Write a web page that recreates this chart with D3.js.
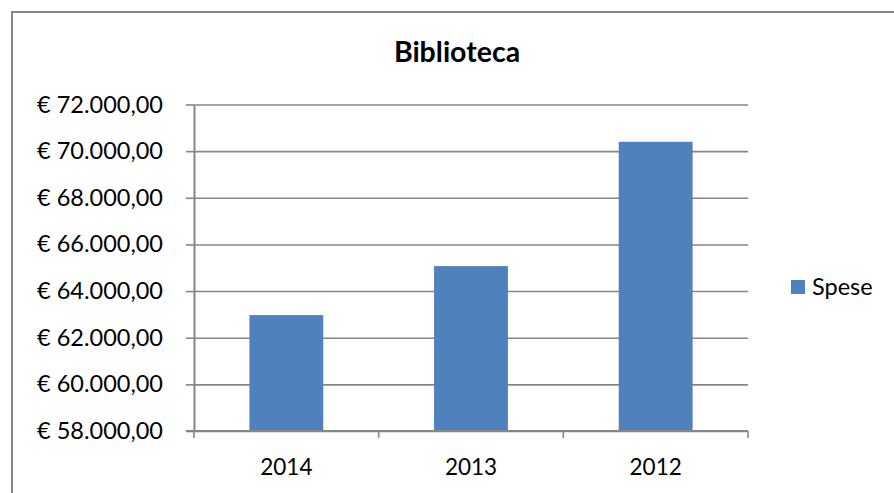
<!DOCTYPE html>
<html><head><meta charset="utf-8">
<script src="https://cdn.jsdelivr.net/npm/d3@7"></script>
<style>
html,body{margin:0;padding:0;background:#fff;}
svg{display:block;}
text{font-family:Lato,"Open Sans",sans-serif;fill:#000;}
</style></head>
<body>
<svg id="c" width="894" height="493"></svg>
<script>
const title = "Biblioteca";
const seriesName = "Spese";
const categories = ["2014", "2013", "2012"];
const values = [62970, 65070, 70400];
const yTicks = [58000, 60000, 62000, 64000, 66000, 68000, 70000, 72000];

(function () {
const W = 894, H = 493;
const pL = 194, pR = 748, pT = 104.5, pB = 431;
const gridColor = "#868686";
const barColor = "#4F81BD";

const svg = d3.select("#c");
const loc = d3.formatLocale({decimal: ",", thousands: ".", grouping: [3], currency: ["€ ", ""]});
const fmt = loc.format("$,.2f");

// chart frame
svg.append("path").attr("d", `M12,${H} L12,12 L${W},12`)
  .attr("fill", "none").attr("stroke", gridColor).attr("stroke-width", 2);

const x = d3.scaleBand().domain(categories).range([pL, pR]).paddingInner(0.6).paddingOuter(0.3);
const y = d3.scaleLinear().domain([d3.min(yTicks), d3.max(yTicks)]).range([pB, pT]);

// gridlines
svg.append("g").attr("transform", `translate(${pL},0)`)
  .call(d3.axisLeft(y).tickValues(yTicks).tickSize(-(pR - pL)).tickFormat(""))
  .call(g => g.select(".domain").remove())
  .call(g => g.selectAll("line").attr("stroke", gridColor).attr("stroke-width", 1.6));

// bars
svg.append("g").selectAll("rect").data(values).join("rect")
  .attr("x", (d, i) => x(categories[i]))
  .attr("y", d => y(d))
  .attr("width", x.bandwidth())
  .attr("height", d => y(y.domain()[0]) - y(d))
  .attr("fill", barColor);

// y axis
const yAx = svg.append("g").attr("transform", `translate(${pL},0)`)
  .call(d3.axisLeft(y).tickValues(yTicks).tickSizeInner(8).tickSizeOuter(0).tickPadding(23).tickFormat(fmt));
yAx.select(".domain").attr("stroke", gridColor).attr("stroke-width", 2);
yAx.selectAll("line").attr("stroke", gridColor).attr("stroke-width", 1.6);
yAx.selectAll("text").attr("font-size", 23.5).attr("font-family", "Lato").attr("fill", "#000");

// x axis
const xAx = svg.append("g").attr("transform", `translate(0,${pB})`)
  .call(d3.axisBottom(x).tickSize(0).tickPadding(0));
xAx.select(".domain").remove();
xAx.selectAll("text").attr("font-size", 22.5).attr("font-family", "Lato").attr("fill", "#000")
  .attr("dy", null).attr("y", 44);
const half = (x.step() - x.bandwidth()) / 2;
const bounds = categories.map(c => x(c) - half).concat([x(categories[categories.length - 1]) + x.bandwidth() + half]);
xAx.append("line").attr("x1", pL - 8).attr("x2", pR).attr("stroke", gridColor).attr("stroke-width", 2);
xAx.selectAll(".bt").data(bounds).join("line").attr("class", "bt")
  .attr("x1", d => d).attr("x2", d => d).attr("y1", 0).attr("y2", 7)
  .attr("stroke", gridColor).attr("stroke-width", 1.6);

// title
svg.append("text").attr("x", 457).attr("y", 62).attr("text-anchor", "middle")
  .attr("font-size", 28.5).attr("font-weight", "bold").text(title);

// legend
svg.append("rect").attr("x", 791).attr("y", 280).attr("width", 14).attr("height", 14).attr("fill", barColor);
svg.append("text").attr("x", 812).attr("y", 295).attr("font-size", 23.5).text(seriesName);
})();
</script>
</body></html>
